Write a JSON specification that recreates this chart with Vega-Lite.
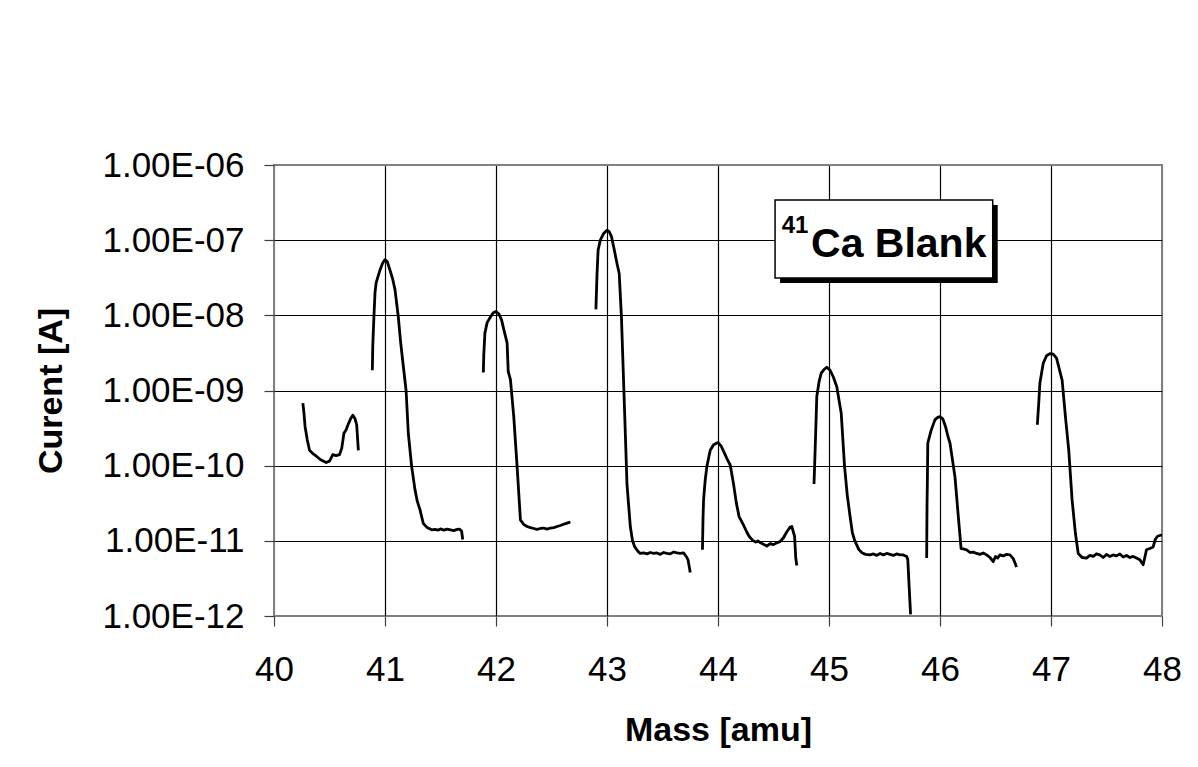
{
  "$schema": "https://vega.github.io/schema/vega-lite/v6.json",
  "width": 888,
  "height": 451,
  "autosize": {"type": "none"},
  "padding": {"left": 274, "top": 165, "right": 36, "bottom": 151},
  "background": "white",
  "config": {
    "font": "Liberation Sans",
    "view": {"stroke": "#808080", "strokeWidth": 2},
    "axis": {
      "domain": false,
      "grid": true,
      "gridOpacity": 1,
      "gridWidth": 1.2,
      "tickColor": "#404040",
      "tickSize": 10,
      "tickWidth": 1.2,
      "labelFont": "Liberation Sans",
      "labelFontSize": 35,
      "labelColor": "#000000",
      "labelFlush": false,
      "labelOverlap": false,
      "labelBound": false,
      "titleFont": "Liberation Sans",
      "titleFontSize": 34,
      "titleFontWeight": "bold",
      "titleColor": "#000000"
    }
  },
  "datasets": {
    "curve": [
      {"seg": 1, "mass": 40.26, "current": 6.8e-10},
      {"seg": 1, "mass": 40.27, "current": 5.0e-10},
      {"seg": 1, "mass": 40.28, "current": 3.3e-10},
      {"seg": 1, "mass": 40.30, "current": 2.2e-10},
      {"seg": 1, "mass": 40.32, "current": 1.6e-10},
      {"seg": 1, "mass": 40.35, "current": 1.45e-10},
      {"seg": 1, "mass": 40.37, "current": 1.38e-10},
      {"seg": 1, "mass": 40.42, "current": 1.2e-10},
      {"seg": 1, "mass": 40.47, "current": 1.1e-10},
      {"seg": 1, "mass": 40.50, "current": 1.15e-10},
      {"seg": 1, "mass": 40.53, "current": 1.4e-10},
      {"seg": 1, "mass": 40.56, "current": 1.36e-10},
      {"seg": 1, "mass": 40.59, "current": 1.4e-10},
      {"seg": 1, "mass": 40.61, "current": 1.7e-10},
      {"seg": 1, "mass": 40.63, "current": 2.7e-10},
      {"seg": 1, "mass": 40.65, "current": 3.0e-10},
      {"seg": 1, "mass": 40.67, "current": 3.6e-10},
      {"seg": 1, "mass": 40.69, "current": 4.2e-10},
      {"seg": 1, "mass": 40.71, "current": 4.7e-10},
      {"seg": 1, "mass": 40.73, "current": 4.2e-10},
      {"seg": 1, "mass": 40.745, "current": 3.5e-10},
      {"seg": 1, "mass": 40.76, "current": 1.6e-10},

      {"seg": 2, "mass": 40.886, "current": 1.86e-9},
      {"seg": 2, "mass": 40.89, "current": 4.0e-9},
      {"seg": 2, "mass": 40.90, "current": 9.5e-9},
      {"seg": 2, "mass": 40.91, "current": 2.0e-8},
      {"seg": 2, "mass": 40.92, "current": 2.7e-8},
      {"seg": 2, "mass": 40.94, "current": 3.4e-8},
      {"seg": 2, "mass": 40.955, "current": 4.0e-8},
      {"seg": 2, "mass": 40.98, "current": 5.0e-8},
      {"seg": 2, "mass": 41.0, "current": 5.5e-8},
      {"seg": 2, "mass": 41.02, "current": 5.2e-8},
      {"seg": 2, "mass": 41.045, "current": 4.0e-8},
      {"seg": 2, "mass": 41.07, "current": 3.0e-8},
      {"seg": 2, "mass": 41.09, "current": 2.2e-8},
      {"seg": 2, "mass": 41.12, "current": 9.5e-9},
      {"seg": 2, "mass": 41.14, "current": 4.5e-9},
      {"seg": 2, "mass": 41.165, "current": 2.1e-9},
      {"seg": 2, "mass": 41.19, "current": 1.0e-9},
      {"seg": 2, "mass": 41.21, "current": 2.7e-10},
      {"seg": 2, "mass": 41.24, "current": 9.8e-11},
      {"seg": 2, "mass": 41.27, "current": 4.8e-11},
      {"seg": 2, "mass": 41.29, "current": 3.4e-11},
      {"seg": 2, "mass": 41.315, "current": 2.6e-11},
      {"seg": 2, "mass": 41.345, "current": 1.7e-11},
      {"seg": 2, "mass": 41.38, "current": 1.5e-11},
      {"seg": 2, "mass": 41.42, "current": 1.4e-11},
      {"seg": 2, "mass": 41.45, "current": 1.42e-11},
      {"seg": 2, "mass": 41.48, "current": 1.39e-11},
      {"seg": 2, "mass": 41.50, "current": 1.44e-11},
      {"seg": 2, "mass": 41.53, "current": 1.39e-11},
      {"seg": 2, "mass": 41.56, "current": 1.43e-11},
      {"seg": 2, "mass": 41.59, "current": 1.40e-11},
      {"seg": 2, "mass": 41.62, "current": 1.37e-11},
      {"seg": 2, "mass": 41.65, "current": 1.42e-11},
      {"seg": 2, "mass": 41.67, "current": 1.43e-11},
      {"seg": 2, "mass": 41.69, "current": 1.35e-11},
      {"seg": 2, "mass": 41.70, "current": 1.04e-11},

      {"seg": 3, "mass": 41.886, "current": 1.74e-9},
      {"seg": 3, "mass": 41.89, "current": 3.0e-9},
      {"seg": 3, "mass": 41.90, "current": 5.8e-9},
      {"seg": 3, "mass": 41.92, "current": 8.0e-9},
      {"seg": 3, "mass": 41.95, "current": 9.5e-9},
      {"seg": 3, "mass": 41.975, "current": 1.08e-8},
      {"seg": 3, "mass": 42.0, "current": 1.12e-8},
      {"seg": 3, "mass": 42.025, "current": 1.05e-8},
      {"seg": 3, "mass": 42.05, "current": 8.7e-9},
      {"seg": 3, "mass": 42.07, "current": 6.5e-9},
      {"seg": 3, "mass": 42.10, "current": 4.3e-9},
      {"seg": 3, "mass": 42.11, "current": 1.8e-9},
      {"seg": 3, "mass": 42.13, "current": 1.4e-9},
      {"seg": 3, "mass": 42.16, "current": 4.5e-10},
      {"seg": 3, "mass": 42.19, "current": 9.8e-11},
      {"seg": 3, "mass": 42.22, "current": 1.9e-11},
      {"seg": 3, "mass": 42.25, "current": 1.65e-11},
      {"seg": 3, "mass": 42.28, "current": 1.55e-11},
      {"seg": 3, "mass": 42.31, "current": 1.5e-11},
      {"seg": 3, "mass": 42.34, "current": 1.46e-11},
      {"seg": 3, "mass": 42.37, "current": 1.42e-11},
      {"seg": 3, "mass": 42.40, "current": 1.46e-11},
      {"seg": 3, "mass": 42.43, "current": 1.48e-11},
      {"seg": 3, "mass": 42.46, "current": 1.43e-11},
      {"seg": 3, "mass": 42.49, "current": 1.48e-11},
      {"seg": 3, "mass": 42.52, "current": 1.5e-11},
      {"seg": 3, "mass": 42.55, "current": 1.55e-11},
      {"seg": 3, "mass": 42.58, "current": 1.6e-11},
      {"seg": 3, "mass": 42.61, "current": 1.66e-11},
      {"seg": 3, "mass": 42.64, "current": 1.72e-11},
      {"seg": 3, "mass": 42.67, "current": 1.78e-11},

      {"seg": 4, "mass": 42.90, "current": 1.2e-8},
      {"seg": 4, "mass": 42.91, "current": 3.5e-8},
      {"seg": 4, "mass": 42.92, "current": 7.4e-8},
      {"seg": 4, "mass": 42.94, "current": 1.0e-7},
      {"seg": 4, "mass": 42.97, "current": 1.23e-7},
      {"seg": 4, "mass": 43.0, "current": 1.36e-7},
      {"seg": 4, "mass": 43.02, "current": 1.30e-7},
      {"seg": 4, "mass": 43.04, "current": 1.12e-7},
      {"seg": 4, "mass": 43.065, "current": 7.5e-8},
      {"seg": 4, "mass": 43.09, "current": 4.9e-8},
      {"seg": 4, "mass": 43.11, "current": 3.6e-8},
      {"seg": 4, "mass": 43.13, "current": 9.5e-9},
      {"seg": 4, "mass": 43.16, "current": 4.5e-10},
      {"seg": 4, "mass": 43.18, "current": 5.7e-11},
      {"seg": 4, "mass": 43.21, "current": 1.55e-11},
      {"seg": 4, "mass": 43.23, "current": 1.0e-11},
      {"seg": 4, "mass": 43.25, "current": 8.3e-12},
      {"seg": 4, "mass": 43.28, "current": 7.2e-12},
      {"seg": 4, "mass": 43.30, "current": 6.8e-12},
      {"seg": 4, "mass": 43.33, "current": 6.9e-12},
      {"seg": 4, "mass": 43.36, "current": 6.7e-12},
      {"seg": 4, "mass": 43.39, "current": 7.0e-12},
      {"seg": 4, "mass": 43.42, "current": 6.8e-12},
      {"seg": 4, "mass": 43.45, "current": 6.9e-12},
      {"seg": 4, "mass": 43.48, "current": 6.6e-12},
      {"seg": 4, "mass": 43.51, "current": 7.0e-12},
      {"seg": 4, "mass": 43.54, "current": 6.8e-12},
      {"seg": 4, "mass": 43.57, "current": 6.7e-12},
      {"seg": 4, "mass": 43.60, "current": 7.1e-12},
      {"seg": 4, "mass": 43.63, "current": 6.9e-12},
      {"seg": 4, "mass": 43.66, "current": 6.8e-12},
      {"seg": 4, "mass": 43.69, "current": 6.9e-12},
      {"seg": 4, "mass": 43.72, "current": 6.0e-12},
      {"seg": 4, "mass": 43.73, "current": 5.6e-12},
      {"seg": 4, "mass": 43.75, "current": 3.8e-12},

      {"seg": 5, "mass": 43.86, "current": 7.6e-12},
      {"seg": 5, "mass": 43.865, "current": 2.0e-11},
      {"seg": 5, "mass": 43.87, "current": 3.5e-11},
      {"seg": 5, "mass": 43.885, "current": 6.5e-11},
      {"seg": 5, "mass": 43.90, "current": 9.8e-11},
      {"seg": 5, "mass": 43.93, "current": 1.6e-10},
      {"seg": 5, "mass": 43.96, "current": 1.9e-10},
      {"seg": 5, "mass": 44.0, "current": 2.04e-10},
      {"seg": 5, "mass": 44.03, "current": 1.8e-10},
      {"seg": 5, "mass": 44.06, "current": 1.45e-10},
      {"seg": 5, "mass": 44.085, "current": 1.2e-10},
      {"seg": 5, "mass": 44.11, "current": 1.02e-10},
      {"seg": 5, "mass": 44.14, "current": 5.7e-11},
      {"seg": 5, "mass": 44.165, "current": 3.2e-11},
      {"seg": 5, "mass": 44.19, "current": 2.1e-11},
      {"seg": 5, "mass": 44.23, "current": 1.62e-11},
      {"seg": 5, "mass": 44.26, "current": 1.3e-11},
      {"seg": 5, "mass": 44.28, "current": 1.15e-11},
      {"seg": 5, "mass": 44.31, "current": 1.02e-11},
      {"seg": 5, "mass": 44.34, "current": 9.6e-12},
      {"seg": 5, "mass": 44.36, "current": 1.0e-11},
      {"seg": 5, "mass": 44.38, "current": 9.5e-12},
      {"seg": 5, "mass": 44.41, "current": 9.0e-12},
      {"seg": 5, "mass": 44.44, "current": 8.5e-12},
      {"seg": 5, "mass": 44.47, "current": 9.2e-12},
      {"seg": 5, "mass": 44.50, "current": 8.9e-12},
      {"seg": 5, "mass": 44.53, "current": 9.4e-12},
      {"seg": 5, "mass": 44.56, "current": 9.8e-12},
      {"seg": 5, "mass": 44.59, "current": 1.1e-11},
      {"seg": 5, "mass": 44.62, "current": 1.32e-11},
      {"seg": 5, "mass": 44.65, "current": 1.52e-11},
      {"seg": 5, "mass": 44.665, "current": 1.55e-11},
      {"seg": 5, "mass": 44.69, "current": 1.15e-11},
      {"seg": 5, "mass": 44.70, "current": 6.0e-12},
      {"seg": 5, "mass": 44.71, "current": 4.7e-12},

      {"seg": 6, "mass": 44.865, "current": 5.7e-11},
      {"seg": 6, "mass": 44.875, "current": 1.6e-10},
      {"seg": 6, "mass": 44.89, "current": 8.3e-10},
      {"seg": 6, "mass": 44.91, "current": 1.3e-9},
      {"seg": 6, "mass": 44.93, "current": 1.7e-9},
      {"seg": 6, "mass": 44.955, "current": 1.9e-9},
      {"seg": 6, "mass": 44.98, "current": 2.04e-9},
      {"seg": 6, "mass": 45.01, "current": 1.86e-9},
      {"seg": 6, "mass": 45.04, "current": 1.5e-9},
      {"seg": 6, "mass": 45.07, "current": 1.12e-9},
      {"seg": 6, "mass": 45.09, "current": 7.5e-10},
      {"seg": 6, "mass": 45.11, "current": 5.0e-10},
      {"seg": 6, "mass": 45.14, "current": 9.8e-11},
      {"seg": 6, "mass": 45.165, "current": 4.0e-11},
      {"seg": 6, "mass": 45.19, "current": 2.1e-11},
      {"seg": 6, "mass": 45.21, "current": 1.3e-11},
      {"seg": 6, "mass": 45.23, "current": 1.02e-11},
      {"seg": 6, "mass": 45.27, "current": 7.6e-12},
      {"seg": 6, "mass": 45.30, "current": 6.9e-12},
      {"seg": 6, "mass": 45.33, "current": 6.6e-12},
      {"seg": 6, "mass": 45.37, "current": 6.5e-12},
      {"seg": 6, "mass": 45.40, "current": 6.7e-12},
      {"seg": 6, "mass": 45.43, "current": 6.4e-12},
      {"seg": 6, "mass": 45.46, "current": 6.8e-12},
      {"seg": 6, "mass": 45.49, "current": 6.5e-12},
      {"seg": 6, "mass": 45.52, "current": 6.8e-12},
      {"seg": 6, "mass": 45.55, "current": 6.6e-12},
      {"seg": 6, "mass": 45.58, "current": 6.4e-12},
      {"seg": 6, "mass": 45.61, "current": 6.7e-12},
      {"seg": 6, "mass": 45.64, "current": 6.5e-12},
      {"seg": 6, "mass": 45.67, "current": 6.5e-12},
      {"seg": 6, "mass": 45.70, "current": 6.2e-12},
      {"seg": 6, "mass": 45.71, "current": 5.6e-12},
      {"seg": 6, "mass": 45.72, "current": 2.8e-12},
      {"seg": 6, "mass": 45.735, "current": 1.05e-12},

      {"seg": 7, "mass": 45.88, "current": 5.9e-12},
      {"seg": 7, "mass": 45.883, "current": 3.0e-11},
      {"seg": 7, "mass": 45.886, "current": 5.7e-11},
      {"seg": 7, "mass": 45.89, "current": 2.0e-10},
      {"seg": 7, "mass": 45.92, "current": 2.95e-10},
      {"seg": 7, "mass": 45.955, "current": 4.1e-10},
      {"seg": 7, "mass": 45.98, "current": 4.4e-10},
      {"seg": 7, "mass": 46.0, "current": 4.5e-10},
      {"seg": 7, "mass": 46.025, "current": 4.2e-10},
      {"seg": 7, "mass": 46.05, "current": 3.3e-10},
      {"seg": 7, "mass": 46.07, "current": 2.5e-10},
      {"seg": 7, "mass": 46.09, "current": 2.0e-10},
      {"seg": 7, "mass": 46.135, "current": 7.1e-11},
      {"seg": 7, "mass": 46.165, "current": 2.1e-11},
      {"seg": 7, "mass": 46.19, "current": 7.9e-12},
      {"seg": 7, "mass": 46.21, "current": 7.8e-12},
      {"seg": 7, "mass": 46.24, "current": 7.6e-12},
      {"seg": 7, "mass": 46.27, "current": 7.0e-12},
      {"seg": 7, "mass": 46.30, "current": 7.1e-12},
      {"seg": 7, "mass": 46.33, "current": 6.8e-12},
      {"seg": 7, "mass": 46.36, "current": 6.6e-12},
      {"seg": 7, "mass": 46.39, "current": 6.9e-12},
      {"seg": 7, "mass": 46.42, "current": 6.5e-12},
      {"seg": 7, "mass": 46.45, "current": 6.0e-12},
      {"seg": 7, "mass": 46.48, "current": 5.3e-12},
      {"seg": 7, "mass": 46.50, "current": 6.2e-12},
      {"seg": 7, "mass": 46.52, "current": 5.9e-12},
      {"seg": 7, "mass": 46.54, "current": 6.5e-12},
      {"seg": 7, "mass": 46.57, "current": 6.3e-12},
      {"seg": 7, "mass": 46.60, "current": 6.6e-12},
      {"seg": 7, "mass": 46.63, "current": 6.5e-12},
      {"seg": 7, "mass": 46.66, "current": 5.8e-12},
      {"seg": 7, "mass": 46.69, "current": 4.5e-12},

      {"seg": 8, "mass": 46.877, "current": 3.5e-10},
      {"seg": 8, "mass": 46.89, "current": 7.0e-10},
      {"seg": 8, "mass": 46.90, "current": 1.26e-9},
      {"seg": 8, "mass": 46.93, "current": 2.3e-9},
      {"seg": 8, "mass": 46.96, "current": 2.9e-9},
      {"seg": 8, "mass": 46.99, "current": 3.1e-9},
      {"seg": 8, "mass": 47.02, "current": 3.05e-9},
      {"seg": 8, "mass": 47.05, "current": 2.7e-9},
      {"seg": 8, "mass": 47.08, "current": 1.8e-9},
      {"seg": 8, "mass": 47.10, "current": 1.38e-9},
      {"seg": 8, "mass": 47.13, "current": 4.5e-10},
      {"seg": 8, "mass": 47.16, "current": 1.6e-10},
      {"seg": 8, "mass": 47.19, "current": 3.5e-11},
      {"seg": 8, "mass": 47.22, "current": 1.26e-11},
      {"seg": 8, "mass": 47.245, "current": 6.8e-12},
      {"seg": 8, "mass": 47.28, "current": 6.0e-12},
      {"seg": 8, "mass": 47.32, "current": 5.9e-12},
      {"seg": 8, "mass": 47.35, "current": 6.4e-12},
      {"seg": 8, "mass": 47.38, "current": 6.2e-12},
      {"seg": 8, "mass": 47.41, "current": 6.7e-12},
      {"seg": 8, "mass": 47.44, "current": 6.5e-12},
      {"seg": 8, "mass": 47.47, "current": 6.0e-12},
      {"seg": 8, "mass": 47.50, "current": 6.6e-12},
      {"seg": 8, "mass": 47.53, "current": 6.2e-12},
      {"seg": 8, "mass": 47.56, "current": 6.5e-12},
      {"seg": 8, "mass": 47.59, "current": 6.3e-12},
      {"seg": 8, "mass": 47.62, "current": 6.7e-12},
      {"seg": 8, "mass": 47.65, "current": 6.1e-12},
      {"seg": 8, "mass": 47.68, "current": 6.4e-12},
      {"seg": 8, "mass": 47.71, "current": 6.0e-12},
      {"seg": 8, "mass": 47.74, "current": 6.2e-12},
      {"seg": 8, "mass": 47.77, "current": 5.9e-12},
      {"seg": 8, "mass": 47.80, "current": 5.6e-12},
      {"seg": 8, "mass": 47.83, "current": 4.8e-12},
      {"seg": 8, "mass": 47.845, "current": 6.0e-12},
      {"seg": 8, "mass": 47.86, "current": 7.6e-12},
      {"seg": 8, "mass": 47.89, "current": 7.9e-12},
      {"seg": 8, "mass": 47.92, "current": 8.3e-12},
      {"seg": 8, "mass": 47.94, "current": 1.05e-11},
      {"seg": 8, "mass": 47.96, "current": 1.15e-11},
      {"seg": 8, "mass": 48.0, "current": 1.2e-11}
    ],
    "box": [
      {"x1": 44.514, "x2": 46.475, "y1": 3.42e-7, "y2": 3.14e-8}
    ],
    "labels": [
      {"text": "41", "mass": 44.574, "current": 1.23e-7, "size": "small"},
      {"text": "Ca Blank", "mass": 44.838, "current": 6.03e-8, "size": "big"}
    ]
  },
  "layer": [
    {
      "data": {"name": "curve"},
      "mark": {"type": "line", "color": "#000000", "strokeWidth": 2.8, "strokeJoin": "round", "strokeCap": "butt", "clip": true},
      "encoding": {
        "x": {
          "field": "mass", "type": "quantitative",
          "scale": {"domain": [40, 48], "nice": false, "zero": false},
          "axis": {
            "values": [40, 41, 42, 43, 44, 45, 46, 47, 48],
            "title": "Mass [amu]",
            "labelPadding": 26,
            "titlePadding": 26,
            "format": "d",
            "gridColor": {"condition": {"test": "datum.value == 40 || datum.value == 48", "value": "#808080"}, "value": "#000000"}
          }
        },
        "y": {
          "field": "current", "type": "quantitative",
          "scale": {"type": "log", "domain": [1e-12, 1e-6], "nice": false},
          "axis": {
            "values": [1e-12, 1e-11, 1e-10, 1e-9, 1e-8, 1e-7, 1e-6],
            "title": "Curent [A]",
            "labelPadding": 20,
            "titlePadding": 33,
            "labelExpr": "'1.00E-' + (round(-log(datum.value)/LN10) < 10 ? '0' : '') + round(-log(datum.value)/LN10)",
            "gridColor": {"condition": {"test": "datum.value < 2e-12 || datum.value > 5e-7", "value": "#808080"}, "value": "#000000"}
          }
        },
        "detail": {"field": "seg", "type": "nominal"}
      }
    },
    {
      "data": {"name": "box"},
      "mark": {"type": "rect", "fill": "#000000", "xOffset": 5, "x2Offset": 5, "yOffset": 5, "y2Offset": 5},
      "encoding": {
        "x": {"field": "x1", "type": "quantitative"},
        "x2": {"field": "x2"},
        "y": {"field": "y1", "type": "quantitative"},
        "y2": {"field": "y2"}
      }
    },
    {
      "data": {"name": "box"},
      "mark": {"type": "rect", "fill": "#ffffff", "stroke": "#000000", "strokeWidth": 1.5},
      "encoding": {
        "x": {"field": "x1", "type": "quantitative"},
        "x2": {"field": "x2"},
        "y": {"field": "y1", "type": "quantitative"},
        "y2": {"field": "y2"}
      }
    },
    {
      "data": {"name": "labels"},
      "transform": [{"filter": "datum.size == 'small'"}],
      "mark": {"type": "text", "font": "Liberation Sans", "fontWeight": "bold", "fontSize": 24, "align": "left", "baseline": "alphabetic", "color": "#000000"},
      "encoding": {
        "x": {"field": "mass", "type": "quantitative"},
        "y": {"field": "current", "type": "quantitative"},
        "text": {"field": "text"}
      }
    },
    {
      "data": {"name": "labels"},
      "transform": [{"filter": "datum.size == 'big'"}],
      "mark": {"type": "text", "font": "Liberation Sans", "fontWeight": "bold", "fontSize": 41, "align": "left", "baseline": "alphabetic", "color": "#000000"},
      "encoding": {
        "x": {"field": "mass", "type": "quantitative"},
        "y": {"field": "current", "type": "quantitative"},
        "text": {"field": "text"}
      }
    }
  ]
}
